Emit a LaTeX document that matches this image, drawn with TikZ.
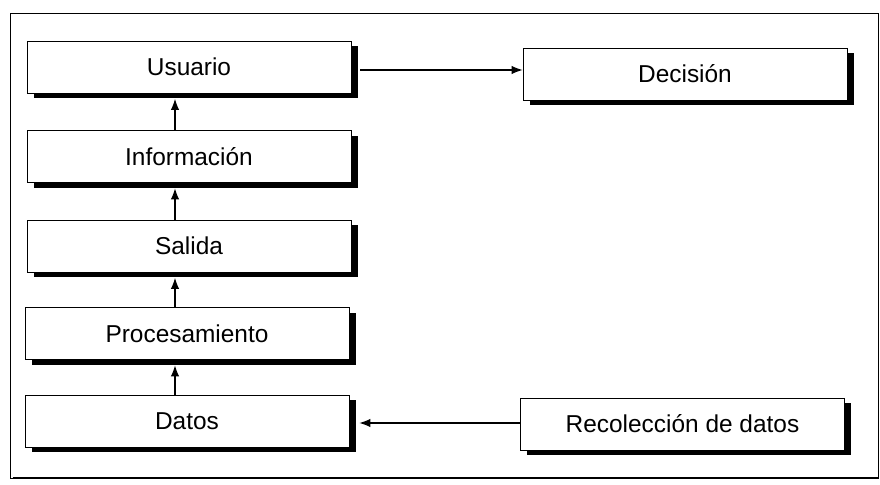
\documentclass[tikz,border=0pt]{standalone}
\usepackage{fontspec}
\setmainfont{Liberation Sans}
\usepackage{tikz}
\usetikzlibrary{arrows.meta, positioning, shadows}

\begin{document}
\begin{tikzpicture}[
    box/.style={rectangle, draw, fill=white, minimum width=6.48cm, minimum height=1.04cm, align=center, font=\fontsize{13.9}{16}\selectfont, line width=0.5pt,
        drop shadow={shadow xshift=0.13cm, shadow yshift=-0.11cm, fill=black, opacity=1}},
    arrow/.style={-{Latex[length=2.2mm, width=1.7mm]}, line width=0.6pt}
]
\useasboundingbox (0,0) rectangle (17.6,9.7);

% ==================== FRAME ====================
\draw[line width=0.5pt] (0.2,0.14) rectangle (17.56,9.44);
\draw[line width=1.5pt] (0.25,0.14) -- (17.56,0.14);

% ==================== LEFT COLUMN ====================
\node[box] (usuario) at (3.78, 8.36) {Usuario};
\node[box] (info) at (3.78, 6.57) {Información};
\node[box] (salida) at (3.78, 4.78) {Salida};
\node[box] (proc) at (3.74, 3.03) {Procesamiento};
\node[box] (datos) at (3.74, 1.28) {Datos};

% ==================== RIGHT COLUMN ====================
\node[box] (decision) at (13.7, 8.22) {Decisión};
\node[box] (recoleccion) at (13.65, 1.22) {Recolección de datos};

% Arrows upwards
\draw[arrow, shorten >=0.11cm] ([xshift=-0.28cm]info.north) -- ([xshift=-0.28cm]usuario.south);
\draw[arrow, shorten >=0.11cm] ([xshift=-0.28cm]salida.north) -- ([xshift=-0.28cm]info.south);
\draw[arrow, shorten >=0.11cm] ([xshift=-0.24cm]proc.north) -- ([xshift=-0.28cm]salida.south);
\draw[arrow, shorten >=0.11cm] ([xshift=-0.24cm]datos.north) -- ([xshift=-0.24cm]proc.south);

% Arrows sideways
\draw[arrow, shorten <=0.18cm] ([yshift=-0.06cm]usuario.east) -- ([yshift=-0.06cm]usuario.east -| decision.west);
\draw[arrow, shorten >=0.2cm] ([yshift=0.02cm]recoleccion.west) -- ([yshift=0.02cm]recoleccion.west -| datos.east);

\end{tikzpicture}
\end{document}
